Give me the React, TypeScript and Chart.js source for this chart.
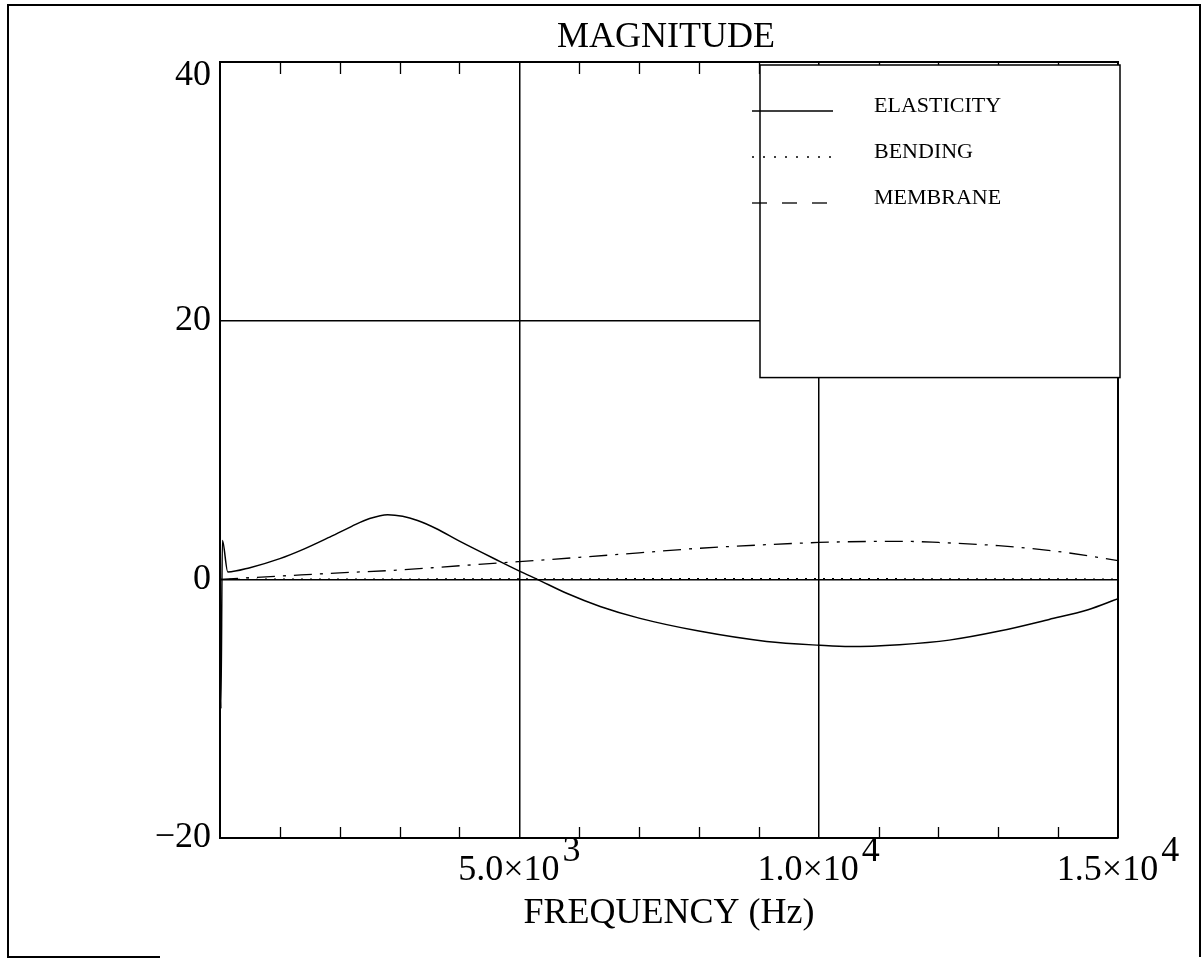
import React, { useEffect, useRef } from "react";
import { Chart, registerables } from "chart.js";

Chart.register(...registerables);

// ---- data ----
const TITLE = "MAGNITUDE";
const X_TITLE = "FREQUENCY (Hz)";

const FREQ_ELASTICITY = [0, 15, 40, 130, 500, 1000, 1350, 1800, 2200, 2500, 2800, 3050, 3300, 3600, 4000, 4680, 5020, 5300, 5800, 6350, 7000, 8000, 9130, 10020, 10520, 11350, 12180, 13020, 13850, 14500, 15000];
const ELASTICITY = [0, -10, 3.0, 0.57, 0.9, 1.6, 2.24, 3.2, 4.1, 4.7, 5.0, 4.88, 4.55, 3.95, 2.95, 1.37, 0.6, 0, -1.1, -2.1, -3.0, -4.0, -4.8, -5.1, -5.2, -5.05, -4.7, -4.0, -3.1, -2.35, -1.5];

const FREQ_BENDING = [0, 3000, 6000, 9000, 12000, 15000];
const BENDING = [0, 0.02, 0.04, 0.05, 0.04, 0.02];

const FREQ_MEMBRANE = [0, 1000, 2000, 3000, 4000, 5000, 6000, 7000, 8000, 9000, 10000, 11000, 11500, 12000, 13000, 14000, 15000];
const MEMBRANE = [0, 0.25, 0.5, 0.72, 1.05, 1.37, 1.7, 2.05, 2.4, 2.65, 2.85, 2.93, 2.93, 2.85, 2.6, 2.15, 1.45];

const LEGEND_LABELS = ["ELASTICITY", "BENDING", "MEMBRANE"];

const X_TICK_VALUES = [5000, 10000, 15000];
const X_TICK_MANTISSA = ["5.0×10", "1.0×10", "1.5×10"];
const X_TICK_EXPONENT = ["3", "4", "4"];

const Y_TICK_VALUES = [-20, 0, 20, 40];
const Y_TICK_LABELS = ["−20", "0", "20", "40"];

const LEGEND_BOTTOM_VALUE = 15.6;

const FONT = '"Liberation Serif", "Times New Roman", serif';

const pts = (xs: number[], ys: number[]) => xs.map((x, i) => ({ x, y: ys[i] }));

const DASHES = [[], [2, 7], [18, 8, 3, 8]];
const LEGEND_DASHES = [[], [2, 9], [15, 15]];

const paperPlugin = {
  id: "paper",
  beforeDraw(chart: any) {
    const { ctx, width, height } = chart;
    ctx.save();
    ctx.fillStyle = "#fff";
    ctx.fillRect(0, 0, width, height);
    ctx.restore();
  },
  beforeDatasetsDraw(chart: any) {
    const { ctx, chartArea: a, scales } = chart;
    const xs = scales.x;
    const ys = scales.y;
    ctx.save();
    ctx.strokeStyle = "#000";
    // top & right borders
    ctx.lineWidth = 2;
    ctx.beginPath();
    ctx.moveTo(a.left, a.top);
    ctx.lineTo(a.right, a.top);
    ctx.lineTo(a.right, a.bottom);
    ctx.stroke();
    // inward minor ticks
    ctx.lineWidth = 1.3;
    ctx.beginPath();
    for (let v = 1000; v < 15000; v += 1000) {
      if (v % 5000 === 0) continue;
      const px = Math.round(xs.getPixelForValue(v)) + 0.5;
      ctx.moveTo(px, a.bottom);
      ctx.lineTo(px, a.bottom - 11);
      ctx.moveTo(px, a.top);
      ctx.lineTo(px, a.top + 12);
    }
    ctx.stroke();
    // legend box
    const bx = a.right - 358;
    const by = a.top + 3;
    const br = a.right + 2;
    const bb = ys.getPixelForValue(LEGEND_BOTTOM_VALUE);
    ctx.fillStyle = "#fff";
    ctx.fillRect(bx, by, br - bx, bb - by);
    ctx.lineWidth = 1.5;
    ctx.strokeRect(bx, by, br - bx, bb - by);
    // legend entries
    ctx.fillStyle = "#000";
    ctx.font = `22px ${FONT}`;
    ctx.textAlign = "left";
    ctx.textBaseline = "alphabetic";
    LEGEND_LABELS.forEach((label, i) => {
      const ly = a.top + 49 + i * 46;
      ctx.setLineDash(LEGEND_DASHES[i]);
      ctx.lineWidth = 1.3;
      ctx.beginPath();
      ctx.moveTo(bx - 8, ly);
      ctx.lineTo(bx + 73, ly);
      ctx.stroke();
      ctx.setLineDash([]);
      ctx.fillText(label, bx + 114, ly + 1);
    });
    ctx.restore();
  },
  afterDraw(chart: any) {
    const { ctx, chartArea: a, scales } = chart;
    const xs = scales.x;
    const ys = scales.y;
    ctx.save();
    ctx.fillStyle = "#000";
    // y tick labels
    ctx.font = `36px ${FONT}`;
    ctx.textAlign = "right";
    ctx.textBaseline = "middle";
    Y_TICK_VALUES.forEach((v, i) => {
      const py = Math.max(ys.getPixelForValue(v), a.top + 14);
      ctx.fillText(Y_TICK_LABELS[i], a.left - 9, py);
    });
    // x tick labels with exponent
    ctx.textAlign = "left";
    ctx.textBaseline = "alphabetic";
    ctx.font = `36px ${FONT}`;
    X_TICK_VALUES.forEach((v, i) => {
      const px = xs.getPixelForValue(v);
      const wM = ctx.measureText(X_TICK_MANTISSA[i]).width;
      const wE = ctx.measureText(X_TICK_EXPONENT[i]).width;
      const start = px - (wM + wE + 3) / 2;
      ctx.fillText(X_TICK_MANTISSA[i], start, a.bottom + 42);
      ctx.fillText(X_TICK_EXPONENT[i], start + wM + 3, a.bottom + 23);
    });
    // axis title & chart title
    ctx.textAlign = "center";
    ctx.font = `36px ${FONT}`;
    const cx = (a.left + a.right) / 2;
    ctx.fillText(X_TITLE, cx, a.bottom + 85);
    ctx.fillText(TITLE, cx - 3, 47);
    // outer frame (bottom edge only partly visible in the reference)
    ctx.strokeStyle = "#000";
    ctx.lineWidth = 2;
    ctx.beginPath();
    ctx.moveTo(160, 957);
    ctx.lineTo(8, 957);
    ctx.lineTo(8, 5);
    ctx.lineTo(1200, 5);
    ctx.lineTo(1200, 957);
    ctx.stroke();
    ctx.restore();
  },
};

export default function App() {
  const ref = useRef<HTMLCanvasElement | null>(null);
  useEffect(() => {
    if (!ref.current) return;
    const chart = new Chart(ref.current, {
      type: "line",
      data: {
        datasets: [
          { label: LEGEND_LABELS[0], data: pts(FREQ_ELASTICITY, ELASTICITY), borderDash: DASHES[0], borderWidth: 1.5 },
          { label: LEGEND_LABELS[1], data: pts(FREQ_BENDING, BENDING), borderDash: DASHES[1], borderWidth: 1.3 },
          { label: LEGEND_LABELS[2], data: pts(FREQ_MEMBRANE, MEMBRANE), borderDash: DASHES[2], borderWidth: 1.3 },
        ].map((d) => ({ ...d, borderColor: "#000", backgroundColor: "#000", pointRadius: 0, fill: false, cubicInterpolationMode: "monotone" as const })),
      },
      options: {
        responsive: false,
        animation: false,
        layout: { padding: { left: 220, right: 86, top: 62, bottom: 124 } },
        plugins: { legend: { display: false }, title: { display: false }, tooltip: { enabled: false } },
        scales: {
          x: {
            type: "linear",
            min: 0,
            max: 15000,
            ticks: { display: false, stepSize: 1000 },
            grid: {
              drawTicks: false,
              lineWidth: 1.5,
              color: (c: any) => (c.tick && c.tick.value % 5000 === 0 && c.tick.value !== 0 && c.tick.value !== 15000 ? "#000" : "rgba(0,0,0,0)"),
            },
            border: { display: true, color: "#000", width: 2 },
            afterFit: (s: any) => { s.height = 0; },
          },
          y: {
            type: "linear",
            min: -20,
            max: 40,
            ticks: { display: false, stepSize: 20 },
            grid: {
              drawTicks: false,
              lineWidth: 1.5,
              color: (c: any) => (c.tick && (c.tick.value === 0 || c.tick.value === 20) ? "#000" : "rgba(0,0,0,0)"),
            },
            border: { display: true, color: "#000", width: 2 },
            afterFit: (s: any) => { s.width = 0; },
          },
        },
      },
      plugins: [paperPlugin],
    });
    return () => chart.destroy();
  }, []);
  return (
    <div style={{ position: "fixed", left: 0, top: 0, width: 1204, height: 962 }}>
      <canvas ref={ref} width={1204} height={962} style={{ display: "block", width: 1204, height: 962 }} />
    </div>
  );
}
